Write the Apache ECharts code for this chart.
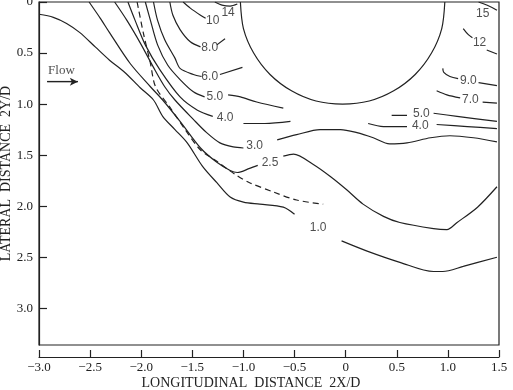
<!DOCTYPE html>
<html>
<head>
<meta charset="utf-8">
<script src="https://cdn.jsdelivr.net/npm/echarts@6/dist/echarts.min.js"></script>
<style>
  html, body { margin: 0; padding: 0; background: #fff; }
  #main { width: 513px; height: 390px; }
</style>
</head>
<body>
<div id="main"></div>
<script>
// contour lines as [2X/D, 2Y/D], split where the labels sit
var c10a = [[-3.00,0.12],[-2.86,0.15],[-2.73,0.21],[-2.60,0.30],[-2.45,0.44],[-2.31,0.57],[-2.16,0.69],[-2.01,0.84],[-1.88,0.96],[-1.79,1.12],[-1.67,1.25],[-1.55,1.38],[-1.40,1.61],[-1.26,1.77],[-1.13,1.91],[-1.00,1.96],[-0.84,1.98],[-0.61,2.01],[-0.50,2.08]];
var c10b = [[-0.04,2.34],[0.21,2.44],[0.53,2.55],[0.86,2.64],[0.95,2.64],[1.15,2.59],[1.48,2.50]];
var c25a = [[-2.51,0],[-2.40,0.16],[-2.31,0.30],[-2.11,0.60],[-1.91,0.83],[-1.79,0.96],[-1.62,1.17],[-1.42,1.43],[-1.26,1.57],[-1.13,1.65],[-1.06,1.67],[-0.94,1.63],[-0.86,1.60]];
var c25b = [[-0.61,1.51],[-0.51,1.49],[-0.32,1.59],[-0.15,1.71],[0.01,1.84],[0.17,1.98],[0.37,2.10],[0.53,2.16],[0.86,2.22],[0.99,2.23],[1.09,2.16],[1.29,2.01],[1.48,1.81]];
var c30a = [[-2.26,0],[-2.14,0.18],[-2.01,0.40],[-1.88,0.64],[-1.77,0.83],[-1.67,0.96],[-1.49,1.15],[-1.36,1.28],[-1.23,1.38],[-1.10,1.42],[-1.00,1.43]];
var c30b = [[-0.67,1.35],[-0.48,1.30],[-0.25,1.25],[-0.05,1.25],[0.11,1.28],[0.27,1.33],[0.43,1.39],[0.60,1.38],[0.83,1.33],[1.02,1.31],[1.25,1.33],[1.48,1.37]];
var c40a = [[-2.13,0],[-2.06,0.18],[-1.96,0.42],[-1.82,0.66],[-1.62,0.93],[-1.45,1.06],[-1.30,1.12]];
var c40b = [[-1.00,1.19],[-0.79,1.19],[-0.54,1.17]];
var c40c = [[0.22,1.19],[0.37,1.22],[0.60,1.22]];
var c40d = [[0.89,1.20],[1.19,1.22],[1.48,1.24]];
var c50a = [[-1.96,0],[-1.91,0.18],[-1.84,0.42],[-1.74,0.62],[-1.62,0.76],[-1.49,0.88],[-1.38,0.93]];
var c50b = [[-1.15,0.91],[-1.03,0.93],[-0.87,0.98],[-0.61,1.04]];
var c50c = [[0.45,1.11],[0.60,1.11]];
var c50d = [[0.86,1.09],[1.09,1.12],[1.48,1.17]];
var c60a = [[-1.88,0],[-1.84,0.18],[-1.77,0.37],[-1.67,0.55],[-1.62,0.65],[-1.49,0.71],[-1.41,0.73]];
var c60b = [[-1.23,0.71],[-1.01,0.64]];
var c70a = [[0.89,0.87],[0.99,0.91],[1.12,0.94]];
var c70b = [[1.34,0.98],[1.48,0.99]];
var c80a = [[-1.72,0],[-1.69,0.13],[-1.62,0.27],[-1.52,0.39],[-1.42,0.44]];
var c80b = [[-1.26,0.42],[-1.18,0.36]];
var c90a = [[0.95,0.65],[0.96,0.69],[1.02,0.73],[1.10,0.75]];
var c90b = [[1.30,0.79],[1.48,0.82]];
var c100 = [[-1.59,0],[-1.52,0.06],[-1.42,0.13],[-1.37,0.16]];
var c120a = [[1.15,0.26],[1.20,0.32],[1.24,0.35]];
var c120b = [[1.38,0.47],[1.48,0.51]];
var c140 = [[-1.28,0],[-1.21,0.03],[-1.13,0.04],[-1.06,0.02]];
var c150 = [[1.30,0],[1.38,0.03],[1.48,0.08]];

var dashed = [[-2.04,0],[-1.98,0.30],[-1.91,0.60],[-1.86,0.83],[-1.72,1.03],[-1.57,1.25],[-1.42,1.45],[-1.26,1.56],[-1.08,1.69],[-0.94,1.77],[-0.71,1.86],[-0.48,1.94],[-0.22,1.98]];

// cylinder outline
var cylinder = [[-1.03,0],[-1.00,0.26],[-0.90,0.50],[-0.74,0.71],[-0.53,0.87],[-0.29,0.97],[-0.03,1.00],[0.23,0.97],[0.47,0.87],[0.68,0.71],[0.84,0.50],[0.94,0.26],[0.97,0]];

var contourLabels = [
  ['10', -1.30, 0.18], ['14', -1.15, 0.10], ['8.0', -1.33, 0.45], ['6.0', -1.33, 0.73],
  ['5.0', -1.28, 0.93], ['4.0', -1.18, 1.13], ['3.0', -0.89, 1.41], ['2.5', -0.74, 1.57],
  ['1.0', -0.27, 2.21], ['15', 1.34, 0.11], ['12', 1.31, 0.40], ['9.0', 1.20, 0.77],
  ['7.0', 1.22, 0.96], ['5.0', 0.74, 1.09], ['4.0', 0.73, 1.21]
];

var flowText = ['Flow', -2.78, 0.67];
var flowArrow = [[-2.92, 0.78], [-2.62, 0.78]];

var solid = [c10a, c10b, c25a, c25b, c30a, c30b, c40a, c40b, c40c, c40d, c50a, c50b, c50c, c50d,
  c60a, c60b, c70a, c70b, c80a, c80b, c90a, c90b, c100, c120a, c120b, c140, c150, cylinder];

var ink = '#222';
var serif = 'Liberation Serif';

var series = solid.map(function (d) {
  return {
    type: 'line', data: d, smooth: 0.3, symbol: 'none', silent: true,
    lineStyle: { color: ink, width: 1.2 }
  };
});

series.push({
  type: 'line', data: dashed, smooth: 0.3, symbol: 'none', silent: true,
  lineStyle: { color: ink, width: 1.2, type: [6, 4] }
});

series.push({
  type: 'scatter', silent: true, symbolSize: 1,
  itemStyle: { color: 'rgba(0,0,0,0)' },
  data: contourLabels.map(function (l) { return { name: l[0], value: [l[1], l[2]] }; }),
  label: {
    show: true, position: 'inside', formatter: '{b}',
    color: ink, fontFamily: 'Liberation Sans', fontSize: 12
  }
});

series.push({
  type: 'line', data: flowArrow, symbol: 'none', silent: true,
  lineStyle: { color: ink, width: 1.2 },
  markLine: {
    silent: true, symbol: ['none', 'arrow'], symbolSize: [6, 8],
    lineStyle: { color: ink, width: 1.2, type: 'solid' }, label: { show: false },
    data: [[{ coord: flowArrow[0] }, { coord: flowArrow[1] }]]
  }
});

series.push({
  type: 'scatter', silent: true, symbolSize: 1,
  itemStyle: { color: 'rgba(0,0,0,0)' },
  data: [{ name: flowText[0], value: [flowText[1], flowText[2]] }],
  label: { show: true, position: 'inside', formatter: '{b}', color: ink, fontFamily: serif, fontSize: 13 }
});

var chart = echarts.init(document.getElementById('main'));
chart.setOption({
  animation: false,
  backgroundColor: '#fff',
  grid: {
    left: 39, right: 14, top: 2, bottom: 45, outerBoundsMode: 'none',
    show: true, borderColor: ink, borderWidth: 1.2
  },
  xAxis: {
    type: 'value', min: -3, max: 1.5, interval: 0.5, offset: 12, position: 'bottom',
    name: 'LONGITUDINAL  DISTANCE  2X/D', nameLocation: 'middle', nameGap: 19, nameMoveOverlap: false,
    nameTextStyle: { color: ink, fontFamily: serif, fontSize: 14, padding: [0, 36, 0, 0] },
    axisLine: { show: true, onZero: false, lineStyle: { color: ink, width: 1.2 } },
    axisTick: { show: true, inside: true, length: 7, lineStyle: { color: ink, width: 1.2 } },
    axisLabel: {
      color: ink, fontFamily: serif, fontSize: 13, margin: 4,
      formatter: function (v) { return v === 0 ? '0' : (v < 0 ? '\u2212' : '') + Math.abs(v).toFixed(1); }
    },
    splitLine: { show: false }
  },
  yAxis: {
    type: 'value', inverse: true, min: 0, max: 3.36, interval: 0.5, position: 'left',
    name: 'LATERAL  DISTANCE  2Y/D', nameLocation: 'middle', nameGap: 26, nameMoveOverlap: false,
    nameTextStyle: { color: ink, fontFamily: serif, fontSize: 14 },
    axisLine: { show: true, onZero: false, lineStyle: { color: ink, width: 1.2 } },
    axisTick: { show: true, inside: true, length: 8, lineStyle: { color: ink, width: 1.2 } },
    axisLabel: {
      color: ink, fontFamily: serif, fontSize: 13, margin: 6, showMaxLabel: false,
      formatter: function (v) { return v === 0 ? '0' : v.toFixed(1); }
    },
    splitLine: { show: false }
  },
  series: series
});
</script>
</body>
</html>
